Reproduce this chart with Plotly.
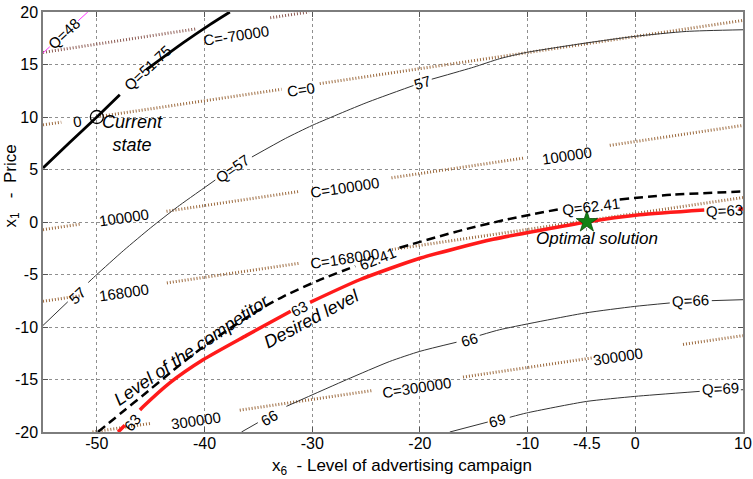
import plotly.graph_objects as go

# ---------------- data (x6 = advertising level, x1 = price) ----------------
# iso-quality curves Q
q48_x = [-55, -54.37, None, -51.74, -50.84]
q48_y = [16.1, 16.69, None, 19.16, 20.0]

q5175_x = [-55, -52.5, -50, -47.87, None, -45.4, -42.0, -39.5, -37.65]
q5175_y = [5.14, 7.6, 10.0, 12.12, None, 14.5, 17.05, 18.8, 20.0]

q57_x = [-55, -52.7, None, -50.8, -50, -47.5, -45, -42.5, -39.0, None, -35.6, -32.5, -30, -25,
         -20.6, None, -18.9, -15, -12.6, -10.11, -4.54, -0.05, 4.75, 10]
q57_y = [-9.85, -7.6, None, -5.77, -5.0, -2.7, -0.55, 1.45, 4.0, None, 6.19, 7.95, 9.2, 11.35,
         13.0, None, 13.6, 14.75, 15.55, 16.15, 17.05, 17.68, 18.15, 18.31]

q6241_x = [-49.9, -47.4, -45.7, -43, -40, -37, -34.5, -32.7, -29.5, -26.0, None,
           -21.9, -16, -12.1, -7.2, None, -1.45, 3.5, 10]
q6241_y = [-20, -17.9, -16.5, -14.2, -11.8, -9.7, -8.1, -7.1, -5.6, -4.2, None,
           -2.45, -0.75, 0.2, 1.2, None, 2.15, 2.6, 2.91]

q63_x = [-48.03, -47.4, None, -46.0, -45.71, -43.2, -40.1, -36.1, -32.0, None, -30.2,
         -25.6, -20, -13.2, -4.5, 0.4, 6.4, None, 9.6, 10]
q63_y = [-20, -19.35, None, -17.9, -17.6, -15.3, -13.1, -10.8, -8.5, None, -7.65,
         -5.5, -3.45, -1.65, 0.0, 0.68, 1.14, None, 1.24, 1.25]

q66_x = [-36.57, -35.05, None, -32.4, -26.82, -22.8, -20.01, -16.6, None, -14.45, -12.6,
         -4.69, -0.05, 3.2, None, 7.1, 10]
q66_y = [-20, -19.11, None, -17.56, -15.02, -13.28, -12.32, -11.45, None, -10.8, -10.26,
         -8.67, -8.04, -7.71, None, -7.49, -7.4]

q69_x = [-17.23, -13.7, None, -11.66, -10.11, -4.54, -0.05, 5.98, None, 9.8, 10]
q69_y = [-20, -19.05, None, -18.6, -18.19, -17.09, -16.61, -16.13, None, -15.98, -15.97]

# iso-cost lines C
c_m70000_x = [-55, -40.75, None, -33.9, -30.3]
c_m70000_y = [16.15, 18.4, None, 19.45, 20.0]
c_0_x = [-55, -53.3, None, -49.7, -32.85, None, -29.3, 10]
c_0_y = [9.25, 9.51, None, 10.06, 12.64, None, 13.18, 19.2]
c_100000_x = [-55, -51.6, None, -43.53, -31.2, None, -22.64, -10.27, None, -2.37, 10]
c_100000_y = [-0.73, -0.21, None, 1.02, 2.91, None, 4.21, 6.1, None, 7.3, 9.2]
c_168000_x = [-55, -51.3, None, -43.5, -31.2, None, -22.6, 10]
c_168000_y = [-7.55, -6.99, None, -5.8, -3.93, None, -2.62, 2.33]
c_300000_x = [-50.4, -45.07, None, -36.73, -24.35, None, -16.0, -3.92, None, 4.43, 10]
c_300000_y = [-20, -19.19, None, -17.92, -16.04, None, -14.77, -12.93, None, -11.66, -10.82]

# special points
current_x, current_y = [-50], [10]
optimal_x, optimal_y = [-4.5], [0]

# tick labels
x_ticks = [-50, -40, -30, -20, -10, -4.5, 0, 10]
x_tick_text = ["-50", "-40", "-30", "-20", "-10", "-4.5", "0", "10"]
y_ticks = [-20, -15, -10, -5, 0, 5, 10, 15, 20]
y_tick_text = ["-20", "-15", "-10", "-5", "0", "5", "10", "15", "20"]

# contour labels: text, x, y, angle
contour_labels = [
    ("Q=48", -53.07, 18.0, -43),
    ("Q=51.75", -45.24, 14.67, -43),
    ("57", -51.8, -7.0, -43),
    ("Q=57", -37.4, 5.1, -35),
    ("57", -19.75, 13.3, -17),
    ("62.41", -23.9, -3.5, -22),
    ("Q=62.41", -4.1, 1.5, -7),
    ("63", -46.7, -19.1, -50),
    ("63", -31.16, -8.26, -28),
    ("Q=63", 8.3, 1.08, -3),
    ("66", -33.94, -18.64, -30),
    ("66", -15.37, -11.21, -17),
    ("Q=66", 5.15, -7.5, -3),
    ("69", -12.8, -18.95, -15),
    ("Q=69", 7.94, -15.88, -3),
    ("C=-70000", -37.1, 17.8, -8.5),
    ("0", -51.8, 9.6, -8.5),
    ("C=0", -31.0, 12.6, -8.5),
    ("100000", -47.5, 0.4, -8.5),
    ("C=100000", -27.0, 3.3, -8.5),
    ("100000", -6.3, 6.3, -8.5),
    ("168000", -47.5, -6.7, -8.5),
    ("C=168000", -27.0, -3.5, -8.5),
    ("300000", -40.8, -18.9, -8.5),
    ("C=300000", -20.25, -15.8, -8.5),
    ("300000", -1.6, -12.8, -8.5),
]

FONT = "Arial, Liberation Sans, sans-serif"
BROWN = "#9c6a3e"

fig = go.Figure()

def add_line(x, y, color, width, dash="solid"):
    fig.add_trace(go.Scatter(x=x, y=y, mode="lines", connectgaps=False,
                             line=dict(color=color, width=width, dash=dash, shape="spline", smoothing=0.6),
                             hoverinfo="skip", showlegend=False))

# cost lines (dotted brown)
for cx, cy, col in [(c_m70000_x, c_m70000_y, "#8c5a52"), (c_0_x, c_0_y, BROWN),
                    (c_100000_x, c_100000_y, BROWN), (c_168000_x, c_168000_y, BROWN),
                    (c_300000_x, c_300000_y, BROWN)]:
    fig.add_trace(go.Scatter(x=cx, y=cy, mode="lines", connectgaps=False,
                             line=dict(color=col, width=3, dash="1px,2px"),
                             hoverinfo="skip", showlegend=False))

add_line(q48_x, q48_y, "#ff33ff", 1)
add_line(q57_x, q57_y, "#333333", 1)
add_line(q66_x, q66_y, "#333333", 1)
add_line(q69_x, q69_y, "#333333", 1)
add_line(q6241_x, q6241_y, "black", 2.5, dash="9px,5px")
add_line(q63_x, q63_y, "#ff1a1a", 3.5)
add_line(q5175_x, q5175_y, "black", 2.8)

fig.add_trace(go.Scatter(x=current_x, y=current_y, mode="markers", showlegend=False, hoverinfo="skip",
                         marker=dict(symbol="circle-open", size=13, color="black", line=dict(width=1.3))))
fig.add_trace(go.Scatter(x=optimal_x, y=optimal_y, mode="markers", showlegend=False, hoverinfo="skip",
                         marker=dict(symbol="star", size=16, color="#128212",
                                     line=dict(width=0.8, color="#0b4d0b"))))

for txt, lx, ly, ang in contour_labels:
    fig.add_annotation(x=lx, y=ly, text=txt, textangle=ang, showarrow=False,
                       xanchor="center", yanchor="middle",
                       font=dict(family=FONT, size=15, color="black"))

# descriptive texts
fig.add_annotation(x=-46.66, y=8.41, text="<i>Current<br>state</i>", showarrow=False,
                   xanchor="center", yanchor="middle",
                   font=dict(family=FONT, size=18, color="black"), align="center")
fig.add_annotation(x=-3.58, y=-1.54, text="<i>Optimal solution</i>", showarrow=False,
                   xanchor="center", yanchor="middle",
                   font=dict(family=FONT, size=17, color="black"))
fig.add_annotation(x=-41.2, y=-12.16, text="<i>Level of the competitor</i>", showarrow=False,
                   xanchor="center", yanchor="middle",
                   textangle=-34, font=dict(family=FONT, size=18, color="black"))
fig.add_annotation(x=-30.1, y=-9.2, text="<i>Desired level</i>", showarrow=False,
                   xanchor="center", yanchor="middle",
                   textangle=-28, font=dict(family=FONT, size=18, color="black"))

# axis titles
fig.add_annotation(xref="paper", yref="paper", x=0.513, y=-0.083, showarrow=False,
                   xanchor="center", yanchor="middle",
                   text="x<sub>6</sub>  - Level of advertising campaign",
                   font=dict(family=FONT, size=17, color="black"))
fig.add_annotation(xref="paper", yref="paper", x=-0.044, y=0.585, showarrow=False, textangle=-90,
                   xanchor="center", yanchor="middle",
                   text="x<sub>1</sub>&nbsp;&nbsp;&nbsp;-&nbsp;&nbsp;Price",
                   font=dict(family=FONT, size=17, color="black"))

axis_common = dict(showgrid=True, gridcolor="#8f8f8f", griddash="dot", gridwidth=1,
                   zeroline=False, showline=True, linecolor="#7d7d7d", linewidth=1.5,
                   mirror="ticks", ticks="inside", ticklen=5, tickcolor="#555555",
                   automargin=False,
                   tickfont=dict(family=FONT, size=16, color="black"))

fig.update_xaxes(range=[-55, 10], tickvals=x_ticks, ticktext=x_tick_text,
                 ticklabelstandoff=-4, **axis_common)
fig.update_yaxes(range=[-20, 20], tickvals=y_ticks, ticktext=y_tick_text, **axis_common)

fig.update_layout(width=753, height=479, margin=dict(l=43, r=10, t=12, b=47, autoexpand=False),
                  paper_bgcolor="white", plot_bgcolor="white", showlegend=False)

# remove the browser's default page margin so the figure fills the window exactly
fig.write_html("out.html", config={"displayModeBar": False},
               post_script="document.body.style.margin='0';")
